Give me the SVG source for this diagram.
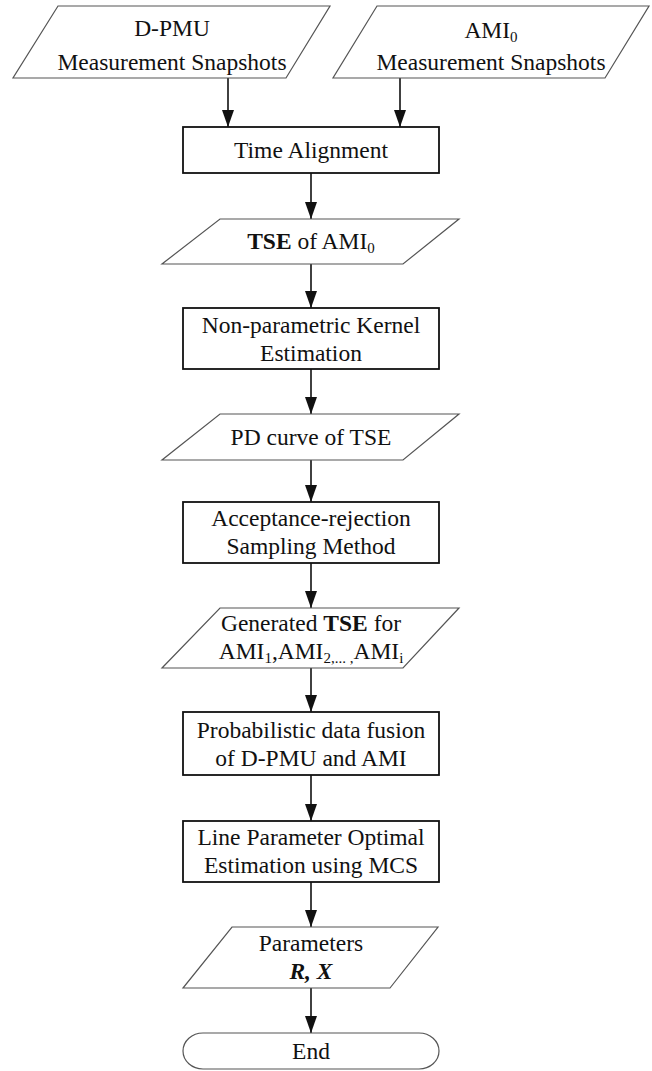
<svg xmlns="http://www.w3.org/2000/svg" width="652" height="1071" viewBox="0 0 652 1071">
<style>
.box{fill:#fff;stroke:#111;stroke-width:1.8}
.io{fill:#fff;stroke:#555;stroke-width:1.2}
.t{font-family:"Liberation Serif","Times New Roman",serif;font-size:23.5px;fill:#111;text-anchor:middle}
.b{font-weight:bold}
.sub{font-size:15px}
.c{stroke:#111;stroke-width:1.6;fill:none;marker-end:url(#ah)}
</style>
<defs>
<marker id="ah" viewBox="0 0 17 12" refX="17" refY="6" markerWidth="17" markerHeight="12" markerUnits="userSpaceOnUse" orient="auto">
<path d="M0,0 L17,6 L0,12 z" fill="#111"/>
</marker>
</defs>
<rect width="652" height="1071" fill="#fff"/>
<g id="connectors">
<line class="c" x1="228" y1="78" x2="228" y2="127"/>
<line class="c" x1="400" y1="78" x2="400" y2="127"/>
<line class="c" x1="311" y1="173" x2="311" y2="219"/>
<line class="c" x1="311" y1="264" x2="311" y2="308"/>
<line class="c" x1="311" y1="369" x2="311" y2="414"/>
<line class="c" x1="311" y1="460" x2="311" y2="502"/>
<line class="c" x1="311" y1="563" x2="311" y2="608"/>
<line class="c" x1="311" y1="668" x2="311" y2="712"/>
<line class="c" x1="311" y1="775" x2="311" y2="821"/>
<line class="c" x1="311" y1="882" x2="311" y2="927"/>
<line class="c" x1="311" y1="988" x2="311" y2="1033"/>
</g>
<g id="dpmu">
<polygon class="io" points="58,6 330,6 286,78 13,78"/>
<text class="t" x="172" y="36">D-PMU</text>
<text class="t" x="172" y="70">Measurement Snapshots</text>
</g>
<g id="ami0">
<polygon class="io" points="377,6 649,6 605,78 333,78"/>
<text class="t" x="491" y="38">AMI<tspan class="sub" dy="4">0</tspan></text>
<text class="t" x="491" y="70">Measurement Snapshots</text>
</g>
<g id="time-alignment">
<rect class="box" x="183" y="127" width="256" height="46"/>
<text class="t" x="311" y="158">Time Alignment</text>
</g>
<g id="tse-ami0">
<polygon class="io" points="220,219 459,219 403,264 162,264"/>
<text class="t" x="311" y="249"><tspan class="b">TSE</tspan> of AMI<tspan class="sub" dy="4">0</tspan></text>
</g>
<g id="kernel">
<rect class="box" x="183" y="308" width="256" height="61"/>
<text class="t" x="311" y="333">Non-parametric Kernel</text>
<text class="t" x="311" y="361">Estimation</text>
</g>
<g id="pd-curve">
<polygon class="io" points="220,414 459,414 403,460 162,460"/>
<text class="t" x="311" y="445">PD curve of TSE</text>
</g>
<g id="sampling">
<rect class="box" x="183" y="502" width="256" height="61"/>
<text class="t" x="311" y="526">Acceptance-rejection</text>
<text class="t" x="311" y="554">Sampling Method</text>
</g>
<g id="generated-tse">
<polygon class="io" points="220,608 459,608 403,668 162,668"/>
<text class="t" x="311" y="631">Generated <tspan class="b">TSE</tspan> for</text>
<text class="t" x="311" y="659">AMI<tspan class="sub" dy="4">1</tspan><tspan dy="-4">,AMI</tspan><tspan class="sub" dy="4">2,... ,</tspan><tspan dy="-4">AMI</tspan><tspan class="sub" dy="4">i</tspan></text>
</g>
<g id="fusion">
<rect class="box" x="183" y="712" width="256" height="63"/>
<text class="t" x="311" y="738">Probabilistic data fusion</text>
<text class="t" x="311" y="766">of D-PMU and AMI</text>
</g>
<g id="line-param">
<rect class="box" x="183" y="821" width="256" height="61"/>
<text class="t" x="311" y="845">Line Parameter Optimal</text>
<text class="t" x="311" y="873">Estimation using MCS</text>
</g>
<g id="parameters">
<polygon class="io" points="232,927 438,927 390,988 183,988"/>
<text class="t" x="311" y="951">Parameters</text>
<text class="t b" x="311" y="979" font-style="italic">R, X</text>
</g>
<g id="end">
<rect class="io" x="183" y="1033" width="256" height="36" rx="20" ry="18"/>
<text class="t" x="311" y="1059">End</text>
</g>
</svg>
